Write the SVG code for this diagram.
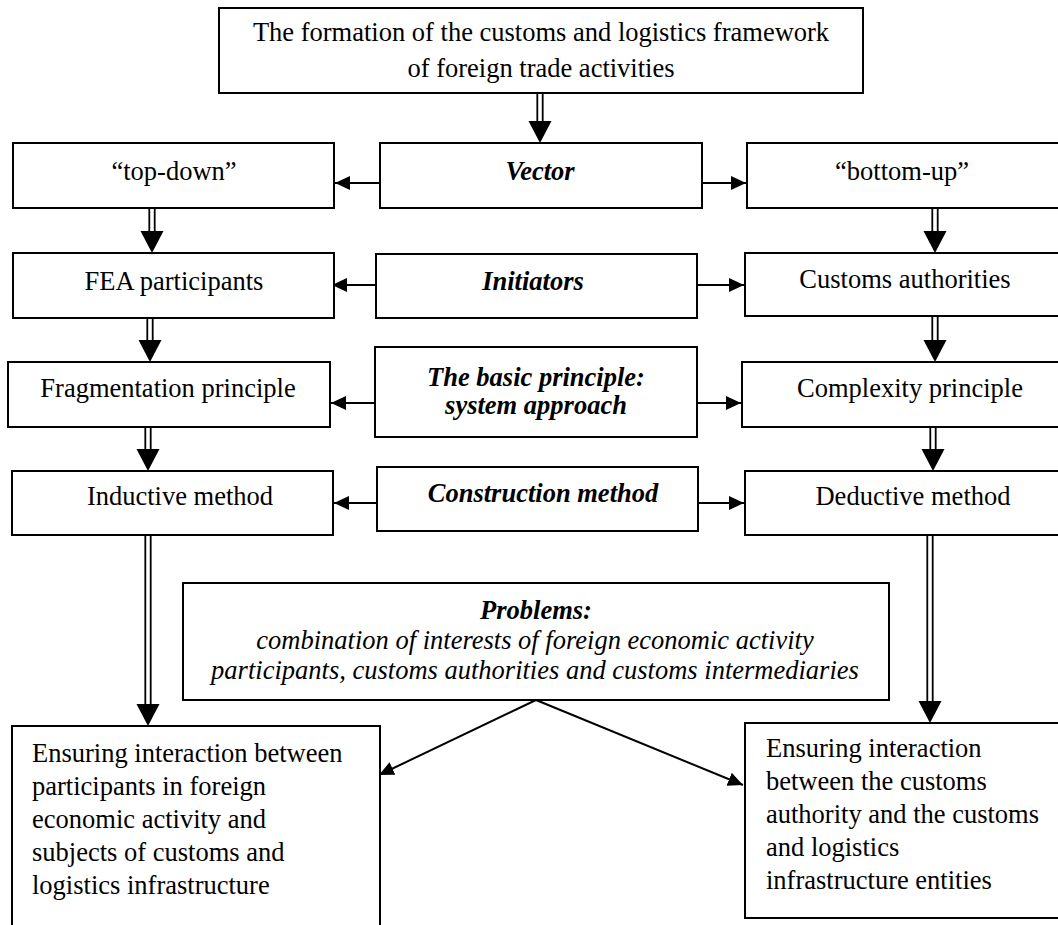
<svg xmlns="http://www.w3.org/2000/svg" width="1058" height="925" viewBox="0 0 1058 925">
<style>
.box{fill:#fff;stroke:#000;stroke-width:2}
.t{font-family:"Liberation Serif","Times New Roman",serif;font-size:26.5px;fill:#000}
.bi{font-weight:bold;font-style:italic}
.i{font-style:italic}
.c{text-anchor:middle}
.ln{stroke:#000;stroke-width:2;fill:none}
.dl{stroke:#000;stroke-width:1.8;fill:none}
.hd{fill:#000;stroke:none}
</style>
<defs>
<marker id="ah" markerUnits="userSpaceOnUse" markerWidth="16" markerHeight="14" refX="15" refY="7" orient="auto">
<path d="M0,0 L15,7 L0,14 z" fill="#000"/>
</marker>
</defs>
<rect width="1058" height="925" fill="#fff"/>
<g id="connectors">
<g class="dbl"><path class="dl" d="M537.3,93 V123 M542.7,93 V123"/><polygon class="hd" points="528.5,121 551.5,121 540,143"/></g>
<g class="dbl"><path class="dl" d="M149.3,208 V233 M154.7,208 V233"/><polygon class="hd" points="140.5,231 163.5,231 152,253"/></g>
<g class="dbl"><path class="dl" d="M147.3,318 V342 M152.7,318 V342"/><polygon class="hd" points="138.5,340 161.5,340 150,362"/></g>
<g class="dbl"><path class="dl" d="M145.3,427 V451 M150.7,427 V451"/><polygon class="hd" points="136.5,449 159.5,449 148,471"/></g>
<g class="dbl"><path class="dl" d="M145.3,535 V706 M150.7,535 V706"/><polygon class="hd" points="136.5,704 159.5,704 148,726"/></g>
<g class="dbl"><path class="dl" d="M932.3,208 V233 M937.7,208 V233"/><polygon class="hd" points="923.5,231 946.5,231 935,253"/></g>
<g class="dbl"><path class="dl" d="M932.3,316 V342 M937.7,316 V342"/><polygon class="hd" points="923.5,340 946.5,340 935,362"/></g>
<g class="dbl"><path class="dl" d="M930.3,427 V451 M935.7,427 V451"/><polygon class="hd" points="921.5,449 944.5,449 933,471"/></g>
<g class="dbl"><path class="dl" d="M927.3,535 V703 M932.7,535 V703"/><polygon class="hd" points="918.5,701 941.5,701 930,723"/></g>
<path class="ln" marker-end="url(#ah)" d="M380,183 L335,183"/>
<path class="ln" marker-end="url(#ah)" d="M702,183 L746,183"/>
<path class="ln" marker-end="url(#ah)" d="M376,285 L332,285"/>
<path class="ln" marker-end="url(#ah)" d="M697,285 L744,285"/>
<path class="ln" marker-end="url(#ah)" d="M375,403 L331,403"/>
<path class="ln" marker-end="url(#ah)" d="M697,403 L741,403"/>
<path class="ln" marker-end="url(#ah)" d="M377,503 L334,503"/>
<path class="ln" marker-end="url(#ah)" d="M698,503 L744,503"/>
<path class="ln" marker-end="url(#ah)" d="M536,700 L379,775"/>
<path class="ln" marker-end="url(#ah)" d="M536,700 L743,785"/>
</g>
<g id="top"><rect class="box" x="219" y="8" width="644" height="85"/>
<text class="t c" x="541" y="41">The formation of the customs and logistics framework</text>
<text class="t c" x="541" y="77">of foreign trade activities</text></g>
<g id="topdown"><rect class="box" x="13" y="143" width="321" height="65"/><text class="t c" x="174" y="180">“top-down”</text></g>
<g id="vector"><rect class="box" x="380" y="143" width="322" height="65"/><text class="t c bi" x="540" y="180">Vector</text></g>
<g id="bottomup"><rect class="box" x="747" y="143" width="330" height="65"/><text class="t c" x="902" y="180">“bottom-up”</text></g>
<g id="fea"><rect class="box" x="13" y="253" width="321" height="65"/><text class="t c" x="174" y="290">FEA participants</text></g>
<g id="initiators"><rect class="box" x="376" y="254" width="321" height="64"/><text class="t c bi" x="533" y="290">Initiators</text></g>
<g id="customs"><rect class="box" x="745" y="253" width="330" height="63"/><text class="t c" x="905" y="288">Customs authorities</text></g>
<g id="frag"><rect class="box" x="8" y="362" width="322" height="65"/><text class="t c" x="168" y="397">Fragmentation principle</text></g>
<g id="basic"><rect class="box" x="375" y="347" width="322" height="90"/>
<text class="t c bi" x="536" y="386">The basic principle:</text>
<text class="t c bi" x="536" y="414">system approach</text></g>
<g id="complexity"><rect class="box" x="742" y="362" width="330" height="65"/><text class="t c" x="910" y="397">Complexity principle</text></g>
<g id="inductive"><rect class="box" x="12" y="471" width="321" height="64"/><text class="t c" x="180" y="505">Inductive method</text></g>
<g id="construction"><rect class="box" x="377" y="467" width="321" height="64"/><text class="t c bi" x="543" y="502">Construction method</text></g>
<g id="deductive"><rect class="box" x="745" y="471" width="330" height="64"/><text class="t c" x="913" y="505">Deductive method</text></g>
<g id="problems"><rect class="box" x="183" y="583" width="706" height="117"/>
<text class="t c bi" x="536" y="619">Problems:</text>
<text class="t c i" x="535" y="649">combination of interests of foreign economic activity</text>
<text class="t c i" x="535" y="679">participants, customs authorities and customs intermediaries</text></g>
<g id="bottomleft"><rect class="box" x="12" y="726" width="368" height="220"/>
<text class="t" x="32" y="762">Ensuring interaction between</text>
<text class="t" x="32" y="795">participants in foreign</text>
<text class="t" x="32" y="828">economic activity and</text>
<text class="t" x="32" y="861">subjects of customs and</text>
<text class="t" x="32" y="894">logistics infrastructure</text></g>
<g id="bottomright"><rect class="box" x="745" y="723" width="330" height="195"/>
<text class="t" x="766" y="757">Ensuring interaction</text>
<text class="t" x="766" y="790">between the customs</text>
<text class="t" x="766" y="823">authority and the customs</text>
<text class="t" x="766" y="856">and logistics</text>
<text class="t" x="766" y="889">infrastructure entities</text></g>
</svg>
